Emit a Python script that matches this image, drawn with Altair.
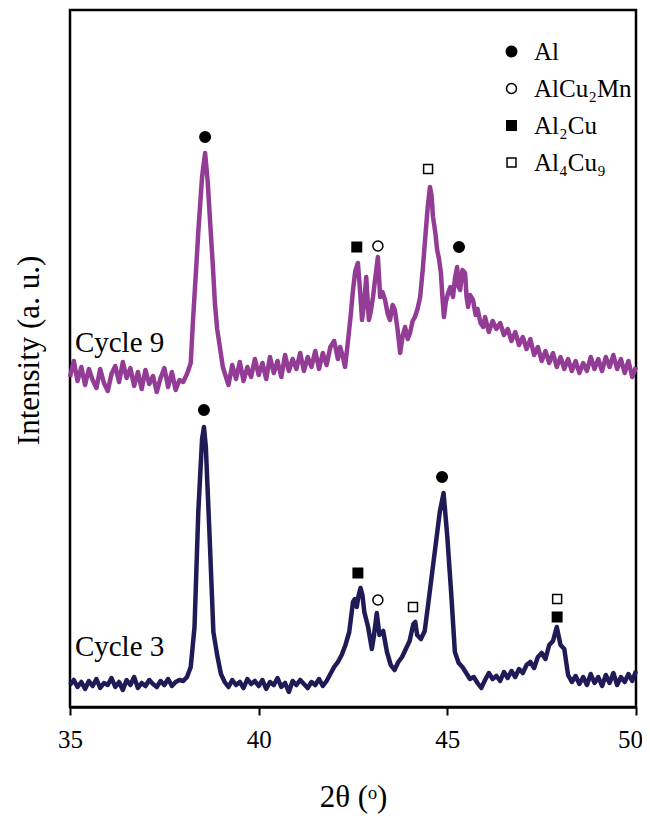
import altair as alt
import pandas as pd

# ---- Cycle 3 pattern (2θ, intensity a.u.) ----
c3_x = [35.0, 35.1, 35.2, 35.3, 35.4, 35.5, 35.6, 35.7, 35.8, 35.9, 36.0, 36.1, 36.2, 36.3, 36.4, 36.5,
        36.6, 36.7, 36.8, 36.9, 37.0, 37.1, 37.2, 37.3, 37.4, 37.5, 37.6, 37.7, 37.8, 37.9, 38.0,
        38.1, 38.2, 38.3, 38.4, 38.5, 38.55, 38.6, 38.7, 38.8, 38.9, 39.0, 39.1,
        39.2, 39.3, 39.4, 39.5, 39.6, 39.7, 39.8, 39.9, 40.0, 40.1, 40.2, 40.3, 40.4, 40.5, 40.6, 40.7,
        40.8, 40.9, 41.0, 41.1, 41.2, 41.3, 41.4, 41.5, 41.6, 41.7, 41.8, 41.9,
        42.0, 42.1, 42.2, 42.3, 42.4, 42.5, 42.55, 42.6, 42.65, 42.7, 42.75, 42.8, 42.9, 43.0, 43.05,
        43.13, 43.2, 43.3, 43.4, 43.5, 43.6, 43.7, 43.8, 43.9, 44.0, 44.1, 44.15, 44.2, 44.3, 44.4,
        44.5, 44.6, 44.7, 44.8, 44.9, 45.0, 45.1, 45.2, 45.3, 45.4, 45.5, 45.6, 45.7, 45.8, 45.9,
        46.0, 46.1, 46.2, 46.3, 46.4, 46.5, 46.6, 46.7, 46.8, 46.9, 47.0, 47.1, 47.2, 47.3, 47.4,
        47.5, 47.6, 47.7, 47.8, 47.9, 48.0, 48.1, 48.2, 48.3, 48.4, 48.5, 48.6, 48.7, 48.8, 48.9,
        49.0, 49.1, 49.2, 49.3, 49.4, 49.5, 49.6, 49.7, 49.8, 49.9, 50.0]
c3_y = [22, 27, 20, 25, 18, 26, 21, 28, 19, 24, 22, 29, 20, 25, 17, 27,
        22, 30, 19, 24, 21, 27, 23, 20, 26, 22, 28, 21, 25, 27, 26,
        30, 40, 80, 195, 268, 280, 260, 170, 75, 52, 33, 25,
        20, 27, 22, 25, 19, 28, 23, 26, 21, 27, 18, 25, 22, 29, 20, 24,
        15, 26, 22, 27, 23, 19, 25, 22, 28, 21, 26, 33,
        40, 45, 52, 62, 75, 105, 108, 100, 112, 119, 112, 95, 80, 58, 70,
        94, 72, 76, 55, 42, 37, 45, 50, 58, 66, 83, 85, 72, 68, 76,
        105, 135, 165, 195, 214, 170, 115, 55, 44, 40, 34, 28, 30, 24, 19,
        27, 34, 28, 31, 26, 35, 29, 36, 30, 38, 34, 42, 45, 39, 50,
        54, 48, 62, 66, 80, 62, 58, 32, 25, 31, 23, 30, 22, 33, 24,
        30, 21, 32, 24, 34, 22, 30, 25, 33, 26, 36]

# ---- Cycle 9 pattern ----
c9_x = [35.0, 35.1, 35.2, 35.3, 35.4, 35.5, 35.6, 35.7, 35.8, 35.9, 36.0, 36.1, 36.2, 36.3, 36.4, 36.5,
        36.6, 36.7, 36.8, 36.9, 37.0, 37.1, 37.2, 37.3, 37.4, 37.5, 37.6, 37.7, 37.8, 37.9, 38.0,
        38.1, 38.2, 38.26, 38.33, 38.4, 38.5, 38.58, 38.65, 38.71, 38.78, 38.84, 38.9, 38.98, 39.05, 39.1,
        39.2, 39.3, 39.4, 39.5, 39.6, 39.7, 39.8, 39.9, 40.0, 40.1, 40.2, 40.3, 40.4, 40.5, 40.6, 40.7,
        40.8, 40.9, 41.0, 41.1, 41.2, 41.3, 41.4, 41.5, 41.6, 41.7, 41.8, 41.9,
        42.0, 42.1, 42.16, 42.22, 42.29, 42.37, 42.44, 42.5, 42.56, 42.63, 42.68, 42.74, 42.8, 42.85,
        42.92, 42.97, 43.03, 43.1, 43.16, 43.22, 43.28, 43.35, 43.42, 43.48, 43.55, 43.61, 43.68, 43.75,
        43.82, 43.88, 43.95, 44.01, 44.08, 44.14, 44.21, 44.28, 44.35, 44.41, 44.48, 44.54, 44.58, 44.62,
        44.68, 44.73, 44.78, 44.83, 44.87, 44.91, 44.96, 45.02, 45.08, 45.15, 45.2, 45.26, 45.3, 45.34,
        45.4, 45.47, 45.51, 45.55, 45.6, 45.68, 45.75, 45.8, 45.88, 45.95,
        46.0, 46.1, 46.2, 46.3, 46.4, 46.5, 46.6, 46.7, 46.8, 46.9, 47.0, 47.1, 47.2, 47.3, 47.4,
        47.5, 47.6, 47.7, 47.8, 47.9, 48.0, 48.1, 48.2, 48.3, 48.4, 48.5, 48.6, 48.7, 48.8, 48.9,
        49.0, 49.1, 49.2, 49.3, 49.4, 49.5, 49.6, 49.7, 49.8, 49.9, 50.0]
c9_y = [330, 346, 326, 340, 322, 338, 327, 319, 338, 324, 316, 333, 341, 325, 345, 329,
        339, 321, 335, 318, 337, 323, 331, 315, 329, 339, 320, 335, 317, 327, 325,
        333, 344, 387, 430, 475, 530, 554, 525, 487, 445, 404, 378, 358, 340, 334,
        322, 342, 328, 345, 326, 340, 330, 348, 332, 344, 328, 350, 334, 346, 330, 352,
        336, 348, 338, 354, 336, 350, 340, 356, 338, 354, 342, 360,
        366, 348, 360, 352, 340, 367, 392, 417, 436, 444, 420, 387, 405, 430,
        387, 395, 410, 432, 450, 410, 415, 407, 393, 387, 402, 397, 378, 354,
        372, 380, 368, 374, 386, 390, 398, 410, 438, 467, 500, 520, 512, 490,
        475, 457, 448, 434, 410, 390, 405, 414, 420, 410, 428, 440, 420, 417,
        437, 434, 410, 400, 412, 407, 392, 398, 384, 380,
        390, 375, 386, 378, 384, 372, 378, 366, 375, 362, 370, 358, 368, 352, 360,
        346, 356, 344, 354, 340, 350, 338, 348, 336, 346, 334, 344, 336, 350, 338,
        348, 336, 350, 340, 352, 338, 348, 334, 346, 330, 340]

# ---- phase markers ----
phases = ["Al", "AlCu\u2082Mn", "Al\u2082Cu", "Al\u2084Cu\u2089"]
mk_x = [38.58, 42.60, 43.16, 44.49, 45.31,
        38.55, 42.63, 43.16, 44.09, 44.86, 47.91, 47.91]
mk_y = [570, 460, 461, 538, 460,
        297, 134, 107, 100, 230, 90, 108]
mk_phase = ["Al", "Al\u2082Cu", "AlCu\u2082Mn", "Al\u2084Cu\u2089", "Al",
            "Al", "Al\u2082Cu", "AlCu\u2082Mn", "Al\u2084Cu\u2089", "Al", "Al\u2082Cu", "Al\u2084Cu\u2089"]

series = ["Cycle 9", "Cycle 3"]
series_colors = ["#933c96", "#1e1b57"]
label_x = [35.13, 35.13]
label_y = [364, 60]

FONT = "Liberation Serif"

lines = pd.DataFrame({
    "theta": c9_x + c3_x,
    "intensity": c9_y + c3_y,
    "series": ["Cycle 9"] * len(c9_x) + ["Cycle 3"] * len(c3_x),
})
markers = pd.DataFrame({"theta": mk_x, "intensity": mk_y, "phase": mk_phase})
labels = pd.DataFrame({"theta": label_x, "intensity": label_y, "series": series})

xscale = alt.Scale(domain=[35, 50], nice=False, zero=False)
yscale = alt.Scale(domain=[0, 697], nice=False, zero=False)

xenc = alt.X("theta:Q", scale=xscale,
             axis=alt.Axis(values=[35, 40, 45, 50], title="2θ (ᵒ)", grid=False,
                           labelFont=FONT, labelFontSize=25, labelColor="black", labelFlush=False,
                           labelOffset={"condition": {"test": "datum.value === 50", "value": -6},
                                        "value": 0},
                           labelPadding=12, tickColor="black", tickSize=8, tickWidth=2,
                           domainColor="black", domainWidth=2.5,
                           titleFont=FONT, titleFontSize=31, titleFontWeight="normal",
                           titleColor="black", titlePadding=30))
yenc = alt.Y("intensity:Q", scale=yscale,
             axis=alt.Axis(labels=False, ticks=False, grid=False, domain=False,
                           title="Intensity (a. u.)", titleFont=FONT, titleFontSize=31,
                           titleFontWeight="normal", titleColor="black", titlePadding=25,
                           titleY=340))

line_layer = alt.Chart(lines).mark_line(strokeWidth=4.5, strokeJoin="round").encode(
    x=xenc, y=yenc,
    color=alt.Color("series:N", scale=alt.Scale(domain=series, range=series_colors), legend=None),
    detail="series:N",
)

mk_layer = alt.Chart(markers).mark_point(filled=True, strokeWidth=1.5, opacity=1).encode(
    x=alt.X("theta:Q", scale=xscale),
    y=alt.Y("intensity:Q", scale=yscale),
    shape=alt.Shape("phase:N", title=None,
                    scale=alt.Scale(domain=phases, range=["circle", "circle", "square", "square"])),
    fill=alt.Fill("phase:N", title=None,
                  scale=alt.Scale(domain=phases, range=["black", "white", "black", "white"])),
    stroke=alt.Stroke("phase:N", title=None,
                      scale=alt.Scale(domain=phases, range=["black", "black", "black", "black"])),
    size=alt.Size("phase:N", title=None,
                  scale=alt.Scale(domain=phases, range=[110, 80, 140, 140])),
)

text_layer = alt.Chart(labels).mark_text(align="left", baseline="middle", font=FONT,
                                         fontSize=29, color="black").encode(
    x=alt.X("theta:Q", scale=xscale),
    y=alt.Y("intensity:Q", scale=yscale),
    text="series:N",
)

chart = alt.layer(line_layer, mk_layer, text_layer).resolve_scale(
    color="independent"
).properties(
    width=566, height=697,
    autosize=alt.AutoSizeParams(type="none"),
    padding={"left": 62, "top": 2, "right": 6, "bottom": 110},
).configure_view(
    stroke="black", strokeWidth=2.5
).configure_legend(
    orient="none", legendX=429, legendY=29, padding=0,
    labelFont=FONT, labelFontSize=25, labelColor="black", labelOffset=10,
    rowPadding=11, symbolStrokeWidth=1.5,
)

chart.save("out.html", embed_options={"renderer": "svg", "actions": False})
